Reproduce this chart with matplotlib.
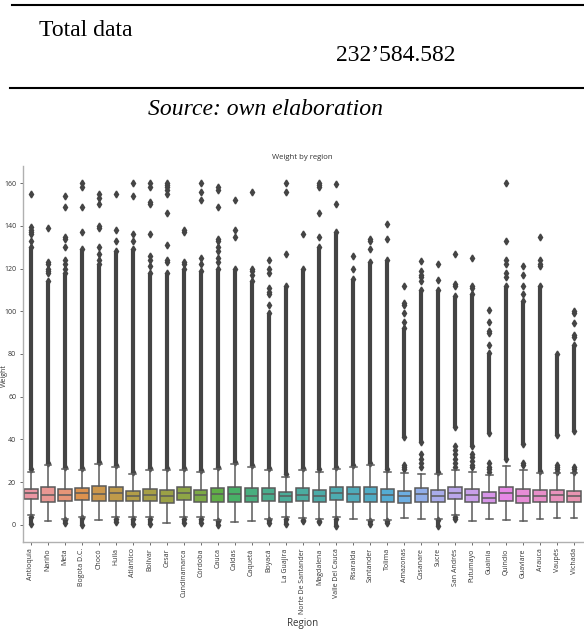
import matplotlib

matplotlib.use("Agg")
import matplotlib.pyplot as plt
from matplotlib.lines import Line2D
import seaborn as sns

# Regions and box statistics (weight)
REGIONS = ["Antioquia", "Nariño", "Meta", "Bogota D.C.", "Chocó", "Huila", "Atlántico",
           "Bolívar", "Cesar", "Cundinamarca", "Córdoba", "Cauca", "Caldas", "Caquetá",
           "Boyacá", "La Guajira", "Norte De Santander", "Magdalena", "Valle Del Cauca",
           "Risaralda", "Santander", "Tolima", "Amazonas", "Casanare", "Sucre", "San Andrés",
           "Putumayo", "Guainía", "Quindío", "Guaviare", "Arauca", "Vaupés", "Vichada"]

Q1 = [12.0, 10.9, 11.0, 11.7, 11.0, 11.2, 11.0, 11.2, 10.2, 11.7, 10.9, 10.9, 10.6, 10.6, 11.4,
      10.6, 11.4, 10.6, 11.7, 10.6, 10.6, 10.6, 10.2, 10.9, 10.9, 12.2, 10.6, 10.2, 11.2, 10.2,
      10.6, 10.9, 10.6]
MEDIAN = [15.1, 14.2, 14.0, 14.9, 14.6, 14.9, 13.6, 14.2, 13.3, 15.1, 13.9, 14.6, 14.6, 13.3,
          14.6, 13.3, 14.1, 13.6, 15.1, 14.6, 14.6, 14.1, 13.3, 14.6, 13.6, 15.1, 14.1, 12.8,
          14.9, 13.6, 13.6, 14.1, 13.3]
Q3 = [16.9, 17.9, 16.9, 17.2, 18.3, 17.7, 16.1, 16.9, 16.4, 17.7, 16.4, 17.2, 17.9, 17.2, 17.2,
      15.6, 17.2, 16.4, 17.7, 17.7, 17.7, 16.9, 16.1, 17.2, 16.4, 17.7, 16.9, 15.6, 17.9, 16.9,
      16.4, 16.4, 16.1]
WHIS_HI = [25.0, 28.0, 26.0, 25.5, 28.4, 26.9, 23.9, 25.5, 25.5, 25.5, 24.7, 26.0, 28.4, 27.0,
           25.5, 22.6, 25.5, 25.0, 26.0, 27.1, 28.2, 25.0, 24.2, 23.7, 24.0, 25.8, 25.0, 23.2,
           27.7, 25.8, 24.2, 24.2, 24.2]
WHIS_LO = [4.5, 1.6, 3.0, 3.9, 2.3, 3.5, 3.8, 3.5, 1.1, 3.5, 3.5, 2.5, 1.2, 1.6, 3.0, 3.8, 3.1,
           2.8, 3.5, 2.6, 2.5, 2.5, 3.1, 2.8, 3.0, 4.7, 2.0, 2.8, 2.3, 2.0, 2.6, 3.1, 3.4]

# dense band of upper outliers (from, to)
DENSE_LO = [26.0, 29.0, 27.0, 26.5, 29.4, 27.9, 24.9, 26.5, 26.5, 26.5, 25.7, 27.0, 29.4, 28.0,
            26.5, 23.6, 26.5, 26.0, 27.0, 28.1, 29.2, 26.0, 41.0, 39.0, 25.0, 46.0, 37.0, 43.0,
            31.0, 38.0, 25.2, 42.0, 44.0]
DENSE_HI = [130, 114, 118, 129, 122, 128, 129, 118, 118, 120, 119, 120, 120, 114, 99, 112, 120,
            130, 137, 115, 123, 124, 92, 110, 110, 107, 108, 80.5, 112, 105, 111.7, 80, 84]
# isolated outliers
OUTLIERS = [
    [133, 136, 137, 138, 139.5, 155],
    [118, 119, 120, 122, 123, 139],
    [120, 122, 124, 130, 134, 135, 149, 154],
    [137, 149, 158, 160],
    [124, 127, 130, 139, 140, 150, 153, 155],
    [133, 138, 155],
    [133, 136, 154, 160],
    [121, 124, 126, 136, 150, 151, 158, 160],
    [123, 124, 131, 146, 155, 157, 158, 159, 160],
    [122, 123, 137, 138],
    [122, 125, 152, 156, 160],
    [123, 125, 128, 130, 133, 134, 149, 157, 158],
    [135, 138, 152],
    [117, 119, 120, 156],
    [103, 108, 109, 111, 118, 120, 124],
    [127, 156, 160],
    [136],
    [135, 146, 158, 159, 160],
    [150, 159.5],
    [120, 126],
    [129, 133, 134],
    [134, 141],
    [26, 27, 28, 95, 99, 103, 104, 112],
    [27, 29, 31, 33, 114, 116, 117, 119, 123.5],
    [114.5, 122],
    [27, 29, 31, 33, 35, 37, 112, 113, 127],
    [27, 28, 30, 32, 33, 111, 112, 125],
    [25, 26, 27, 29, 84, 90, 91, 95, 100.5],
    [116, 118, 122, 124, 133, 160],
    [28, 29, 108, 111.7, 117, 121.4],
    [121, 122, 124, 134.8],
    [25, 26, 27, 28],
    [25, 26, 27, 88, 89, 94.5, 99, 100],
]
# lowest outlier below the lower whisker (None = no low outliers)
LOW_MIN = [0.5, None, 1.0, 0.0, None, 1.5, 0.5, 0.5, None, 1.0, 1.0, 0.0, None, None, 0.8, 0.5,
           2.0, 1.5, -0.5, None, 0.5, 1.0, None, None, -0.5, 3.0, None, None, None, None, None,
           None, None]

FLIER = "#444444"
GRAY = "#5a5a5a"
CHART_FONT = ["Open Sans", "DejaVu Sans"]

fig = plt.figure(figsize=(5.84, 6.34), dpi=100)
W, H = 584.0, 634.0

# document part above the chart
fig.add_artist(Line2D([12 / W, 1.0], [1 - 5 / H] * 2, color="black", lw=1.5))
fig.add_artist(Line2D([10 / W, 1.0], [1 - 88 / H] * 2, color="black", lw=1.5))
fig.text(39 / W, 1 - 36 / H, "Total data", family="Liberation Serif", fontsize=17, va="baseline")
fig.text(336 / W, 1 - 61 / H, "232’584.582", family="Liberation Serif", fontsize=17,
         va="baseline")
fig.text(148 / W, 1 - 115 / H, "Source: own elaboration", family="Liberation Serif",
         style="italic", fontsize=17, va="baseline")

ax = fig.add_axes([22.5 / W, 1 - 542 / H, 560 / W, 376 / H])
n = len(REGIONS)
colors = [sns.desaturate(c, 0.75) for c in sns.husl_palette(n, l=0.7)]

stats = []
for i in range(n):
    stats.append(dict(label=REGIONS[i], q1=Q1[i], med=MEDIAN[i], q3=Q3[i],
                      whislo=WHIS_LO[i], whishi=WHIS_HI[i], fliers=[]))

# outliers first so boxes sit on top
for i in range(n):
    ax.vlines(i, DENSE_LO[i], DENSE_HI[i], color=FLIER, lw=3.0, zorder=1)
    ax.plot([i, i], [DENSE_LO[i], DENSE_HI[i]], ls="none", marker="d", ms=3.5,
            color=FLIER, zorder=1)
    ax.plot([i] * len(OUTLIERS[i]), OUTLIERS[i], ls="none", marker="d", ms=3.5,
            color=FLIER, zorder=1)
    if LOW_MIN[i] is not None:
        ax.vlines(i, LOW_MIN[i], WHIS_LO[i] - 0.8, color=FLIER, lw=3.0, zorder=1)
        ax.plot([i, i], [LOW_MIN[i], WHIS_LO[i] - 0.8], ls="none", marker="d", ms=3.5,
                color=FLIER, zorder=1)

bp = ax.bxp(stats, positions=range(n), widths=0.8, patch_artist=True, showfliers=False,
            boxprops=dict(edgecolor=GRAY, linewidth=1.1),
            medianprops=dict(color=GRAY, linewidth=1.1),
            whiskerprops=dict(color=GRAY, linewidth=1.1),
            capprops=dict(color=GRAY, linewidth=1.1))
for patch, c in zip(bp["boxes"], colors):
    patch.set_facecolor(c)
    patch.set_zorder(2)

ax.set_xlim(-0.5, n - 0.5)
ax.set_ylim(-8, 168)
ax.set_yticks(range(0, 161, 20))
ax.set_xticks(range(n))
ax.set_xticklabels(REGIONS, rotation=90, family=CHART_FONT, fontsize=5, color="#333333")
for lab in ax.get_yticklabels():
    lab.set_family(CHART_FONT)
ax.tick_params(axis="both", labelsize=5, length=2.5, width=0.6, color="#555555",
               labelcolor="#333333", pad=2)
for side in ["top", "right"]:
    ax.spines[side].set_visible(False)
for side in ["left", "bottom"]:
    ax.spines[side].set_color("#b0b0b0")
    ax.spines[side].set_linewidth(1.0)

ax.set_title("Weight by region", family=CHART_FONT, fontsize=5.6, color="#333333", pad=5)
ax.set_xlabel("Region", family=CHART_FONT, fontsize=7, color="#333333", labelpad=3)
# y label sits at the very left edge, between the 60 and 80 tick labels
fig.text(4 / W, 1 - 376 / H, "Weight", rotation=90, family=CHART_FONT, fontsize=5,
         color="#333333", ha="center", va="center")

fig.savefig("out.png", dpi=100)
